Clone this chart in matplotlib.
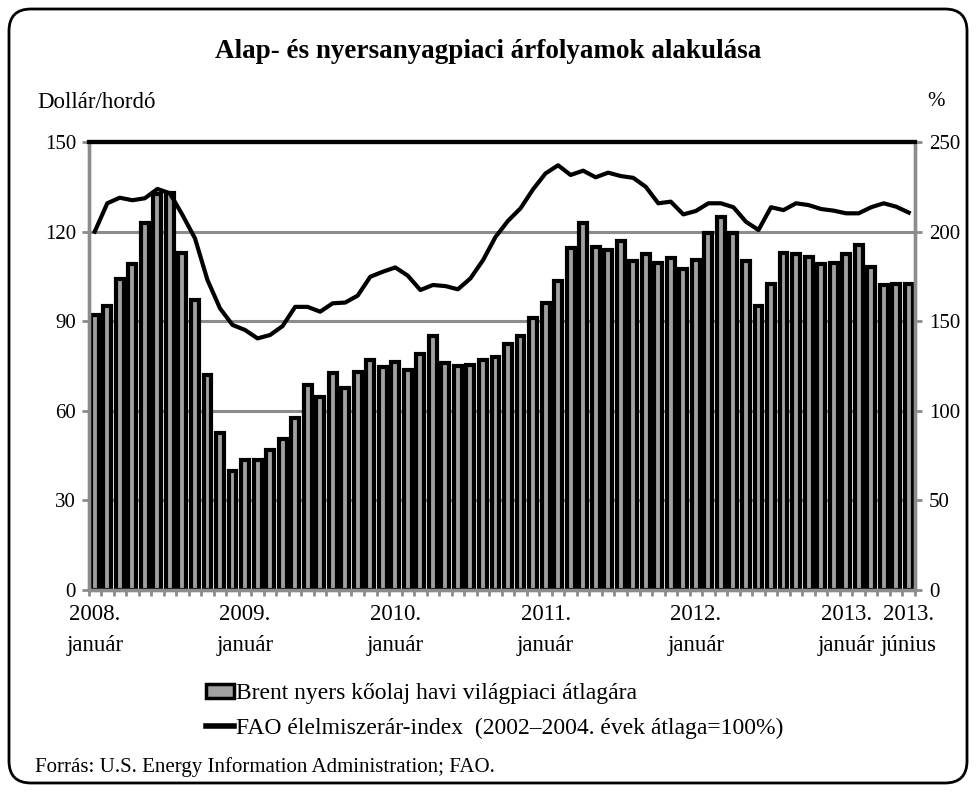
import matplotlib
matplotlib.use("Agg")
import matplotlib.pyplot as plt
import numpy as np
from matplotlib.patches import FancyBboxPatch, Patch
from matplotlib.lines import Line2D
from matplotlib.transforms import IdentityTransform

plt.rcParams['font.family'] = ['Liberation Serif', 'DejaVu Serif']

# Brent havi átlagár (dollár/hordó), 2008. január - 2013. június
brent = [92, 95, 104, 109, 123, 132.5, 133, 113, 97, 72, 52.5, 40,
         43.5, 43.5, 47, 50.5, 57.5, 68.5, 64.5, 72.5, 67.5, 73, 77, 74.5,
         76.5, 73.5, 79, 85, 76, 75, 75.5, 77, 78, 82.5, 85, 91,
         96, 103.5, 114.5, 123, 115, 114, 117, 110, 112.5, 109.5, 111, 107.5,
         110.5, 119.5, 125, 119.5, 110, 95, 102.5, 113, 112.5, 111.5, 109, 109.5,
         112.5, 115.5, 108, 102, 102.5, 102.5]

# FAO élelmiszerár-index (2002-2004 = 100%)
fao = [200, 215.8, 218.9, 217.5, 218.6, 223.8, 221.4, 209.3, 196.3, 173, 157.2, 147.9,
       145.1, 140.4, 142.3, 147.3, 158, 158, 155.3, 160, 160.4, 164.3, 174.8, 177.6,
       180, 175.4, 167.4, 170.2, 169.6, 167.8, 173.9, 184, 197, 206, 213, 223.6,
       232.5, 237, 231.6, 234, 230.3, 232.9, 231, 230, 225, 215.8, 216.7, 209.6,
       211.5, 215.8, 215.8, 213.6, 205.5, 200.9, 213.6, 212, 215.8, 214.8, 212.6, 211.7,
       210.2, 210.2, 213.6, 215.8, 213.9, 210.6]

tick_idx = [0, 12, 24, 36, 48, 60, 65]
tick_labels = ['2008.\njanuár', '2009.\njanuár', '2010.\njanuár', '2011.\njanuár',
               '2012.\njanuár', '2013.\njanuár', '2013.\njúnius']

grey = '#8c8c8c'
x = np.arange(len(brent))

fig = plt.figure(figsize=(9.76, 7.91), dpi=100)
ax = fig.add_axes([88.5 / 976, 1 - 590 / 791, (915 - 88.5) / 976, (590 - 142) / 791])
ax2 = ax.twinx()

ax.bar(x, brent, width=0.63, color='#a0a0a0', edgecolor='black', linewidth=3, zorder=2)
ax.set_ylim(0, 150)
ax.set_xlim(-0.5, len(brent) - 0.5)
ax.set_yticks([0, 30, 60, 90, 120, 150])
ax.set_axisbelow(True)
ax.yaxis.grid(True, color=grey, linewidth=2.2)

ax2.plot(x, fao, color='black', linewidth=3)
ax2.set_ylim(0, 250)
ax2.set_yticks([0, 50, 100, 150, 200, 250])

ax.set_xticks(tick_idx)
ax.set_xticklabels(tick_labels, fontsize=16.5, linespacing=1.65)
ax.set_xticks(np.arange(-0.5, len(brent)), minor=True)
ax.tick_params(axis='x', which='major', length=0, pad=10)
ax.tick_params(axis='x', which='minor', length=4, width=2, color=grey)
ax.tick_params(axis='y', length=5, width=2, color=grey, labelsize=15, pad=4)
ax2.tick_params(axis='y', length=5, width=2, color=grey, labelsize=15, pad=5)

for a in (ax, ax2):
    for s in ('left', 'right', 'bottom'):
        a.spines[s].set_color(grey)
        a.spines[s].set_linewidth(2.4)
    a.spines['top'].set_color('black')
    a.spines['top'].set_linewidth(3)

fig.text(0.5, 1 - 52 / 791, 'Alap- és nyersanyagpiaci árfolyamok alakulása',
         ha='center', va='center', fontsize=19.5, fontweight='bold')
fig.text(37 / 976, 1 - 102 / 791, 'Dollár/hordó', ha='left', va='center', fontsize=16.5)
fig.text(945 / 976, 1 - 102 / 791, '%', ha='right', va='center', fontsize=15)

handles = [Patch(facecolor='#a0a0a0', edgecolor='black', linewidth=2.5),
           Line2D([], [], color='black', linewidth=4)]
labels = ['Brent nyers kőolaj havi világpiaci átlagára',
          'FAO élelmiszerár-index  (2002–2004. évek átlaga=100%)']
fig.legend(handles, labels, loc='upper left', bbox_to_anchor=(197 / 976, 1 - 674 / 791),
           frameon=False, fontsize=17, handlelength=1.15, handleheight=0.55,
           handletextpad=0.1, labelspacing=0.55, borderaxespad=0)

fig.text(35 / 976, 1 - 767 / 791, 'Forrás: U.S. Energy Information Administration; FAO.',
         ha='left', va='center', fontsize=15)

frame = FancyBboxPatch((9, 8), 958, 774, boxstyle='round,pad=0,rounding_size=22',
                       transform=IdentityTransform(), facecolor='none',
                       edgecolor='black', linewidth=2)
fig.add_artist(frame)

fig.savefig('out.png', dpi=100)
